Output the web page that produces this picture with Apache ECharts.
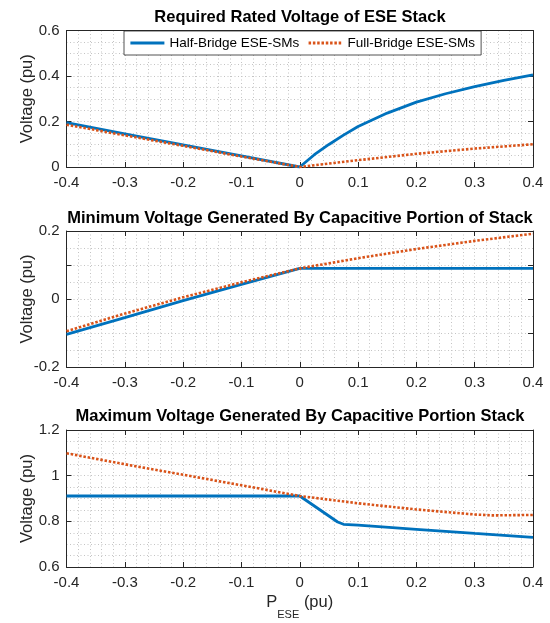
<!DOCTYPE html>
<html>
<head>
<meta charset="utf-8">
<script src="https://cdn.jsdelivr.net/npm/echarts@6/dist/echarts.min.js"></script>
<style>
html,body{margin:0;padding:0;background:#fff;}
#chart{width:550px;height:623px;}
</style>
</head>
<body>
<div id="chart"></div>
<script>
// ---------- data ----------
const seriesNames = ['Half-Bridge ESE-SMs', 'Full-Bridge ESE-SMs'];
const panelTitles = [
  'Required Rated Voltage of ESE Stack',
  'Minimum Voltage Generated By Capacitive Portion of Stack',
  'Maximum Voltage Generated By Capacitive Portion Stack'
];
const xTickLabels = ['-0.4', '-0.3', '-0.2', '-0.1', '0', '0.1', '0.2', '0.3', '0.4'];
const y1TickLabels = ['0', '0.2', '0.4', '0.6'];
const y2TickLabels = ['-0.2', '0', '0.2'];
const y3TickLabels = ['0.6', '0.8', '1', '1.2'];

// Panel 1: required rated voltage
const hb1X = [-0.4, -0.3, -0.2, -0.1, 0, 0.025, 0.05, 0.075, 0.1, 0.15, 0.2, 0.25, 0.3, 0.35, 0.4];
const hb1Y = [0.195, 0.146, 0.097, 0.049, 0, 0.054, 0.099, 0.140, 0.178, 0.237, 0.285, 0.322, 0.353, 0.381, 0.405];
const fb1X = [-0.4, -0.3, -0.2, -0.1, 0, 0.1, 0.2, 0.3, 0.4];
const fb1Y = [0.186, 0.139, 0.093, 0.046, 0, 0.030, 0.058, 0.081, 0.100];

// Panel 2: minimum voltage
const hb2X = [-0.4, -0.3, -0.2, -0.1, 0, 0.4];
const hb2Y = [-0.104, -0.055, -0.005, 0.043, 0.090, 0.090];
const fb2X = [-0.4, -0.3, -0.2, -0.1, 0, 0.1, 0.2, 0.3, 0.4];
const fb2Y = [-0.095, -0.043, 0.005, 0.049, 0.090, 0.120, 0.147, 0.171, 0.192];

// Panel 3: maximum voltage
const hb3X = [-0.4, 0, 0.065, 0.075, 0.1, 0.2, 0.3, 0.4];
const hb3Y = [0.911, 0.911, 0.797, 0.787, 0.783, 0.765, 0.747, 0.730];
const fb3X = [-0.4, -0.3, -0.2, -0.1, 0, 0.1, 0.2, 0.3, 0.33, 0.4];
const fb3Y = [1.098, 1.050, 1.004, 0.958, 0.911, 0.879, 0.852, 0.830, 0.826, 0.828];

// ---------- layout / style ----------
const FONT = 'Liberation Sans, Arial, Helvetica, sans-serif';
const AX = '#262626';
const BLUE = '#0072BD';
const ORANGE = '#D95319';
const gridsPos = [
  {top: 30.5, height: 136.5},
  {top: 231, height: 136},
  {top: 430, height: 137}
];
const titleCenters = [17, 218, 416.5];
const yRanges = [
  {min: 0, max: 0.6, interval: 0.2, minor: 4, labels: y1TickLabels},
  {min: -0.2, max: 0.2, interval: 0.1, minor: 2, labels: y2TickLabels},
  {min: 0.6, max: 1.2, interval: 0.2, minor: 4, labels: y3TickLabels}
];

function zip(xs, ys) { return xs.map((x, i) => [x, ys[i]]); }
function labelFmt(labels) {
  return function (v) {
    for (const l of labels) { if (Math.abs(Number(l) - v) < 1e-6) return l; }
    return '';
  };
}
const gridLine = {show: true, lineStyle: {color: '#c4c4c4', width: 1, type: [1, 2.5]}};

const grids = [], xAxes = [], yAxes = [], series = [], titles = [];
gridsPos.forEach((g, i) => {
  grids.push({left: 66.5, right: 17, top: g.top, height: g.height, containLabel: false});
  titles.push({
    text: panelTitles[i], left: 300, top: titleCenters[i] - 10, textAlign: 'center', padding: 0,
    textStyle: {fontFamily: FONT, fontSize: 16.5, fontWeight: 'bold', color: '#000', lineHeight: 20}
  });
  const isLast = i === 2;
  xAxes.push({
    type: 'value', gridIndex: i, min: -0.4, max: 0.4, interval: 0.1,
    axisLine: {show: true, onZero: false, lineStyle: {color: AX, width: 1}},
    axisTick: {show: true, inside: true, length: 5, lineStyle: {color: AX}},
    axisLabel: {show: true, margin: 8, color: AX, fontFamily: FONT, fontSize: 15, formatter: labelFmt(xTickLabels)},
    splitLine: gridLine,
    minorTick: {show: false, splitNumber: 5},
    minorSplitLine: gridLine,
    name: isLast ? '{p|P}{s|ESE}{p| (pu)}' : '',
    nameLocation: 'middle', nameGap: 27, nameMoveOverlap: false,
    nameTextStyle: {
      fontFamily: FONT, color: AX,
      rich: {
        p: {fontFamily: FONT, fontSize: 16.5, color: AX, verticalAlign: 'top', lineHeight: 26},
        s: {fontFamily: FONT, fontSize: 11, color: AX, verticalAlign: 'bottom', lineHeight: 12}
      }
    }
  });
  xAxes.push({
    type: 'value', gridIndex: i, position: 'top', min: -0.4, max: 0.4, interval: 0.1,
    axisLine: {show: true, onZero: false, lineStyle: {color: AX, width: 1}},
    axisTick: {show: true, inside: true, length: 5, lineStyle: {color: AX}},
    axisLabel: {show: false}, splitLine: {show: false}
  });
  const yr = yRanges[i];
  yAxes.push({
    type: 'value', gridIndex: i, min: yr.min, max: yr.max, interval: yr.interval,
    axisLine: {show: true, onZero: false, lineStyle: {color: AX, width: 1}},
    axisTick: {show: true, inside: true, length: 5, lineStyle: {color: AX}},
    axisLabel: {show: true, margin: 7, color: AX, fontFamily: FONT, fontSize: 15, formatter: labelFmt(yr.labels)},
    splitLine: gridLine,
    minorTick: {show: false, splitNumber: yr.minor},
    minorSplitLine: gridLine,
    name: 'Voltage (pu)', nameLocation: 'middle', nameGap: 31, nameRotate: 90, nameMoveOverlap: false,
    nameTextStyle: {fontFamily: FONT, fontSize: 16.5, color: AX}
  });
  yAxes.push({
    type: 'value', gridIndex: i, position: 'right', min: yr.min, max: yr.max, interval: yr.interval,
    axisLine: {show: true, onZero: false, lineStyle: {color: AX, width: 1}},
    axisTick: {show: true, inside: true, length: 5, lineStyle: {color: AX}},
    axisLabel: {show: false}, splitLine: {show: false}
  });
});

const panelData = [
  [zip(hb1X, hb1Y), zip(fb1X, fb1Y)],
  [zip(hb2X, hb2Y), zip(fb2X, fb2Y)],
  [zip(hb3X, hb3Y), zip(fb3X, fb3Y)]
];
panelData.forEach((pd, i) => {
  series.push({
    name: seriesNames[0], type: 'line', xAxisIndex: 2 * i, yAxisIndex: 2 * i,
    data: pd[0], showSymbol: false, symbol: 'none', z: 3,
    lineStyle: {color: BLUE, width: 2.8, type: 'solid'}, itemStyle: {color: BLUE}
  });
  series.push({
    name: seriesNames[1], type: 'line', xAxisIndex: 2 * i, yAxisIndex: 2 * i,
    data: pd[1], showSymbol: false, symbol: 'none', z: 4,
    lineStyle: {color: ORANGE, width: 2.6, type: [2.5, 1.8], cap: 'butt'}, itemStyle: {color: ORANGE}
  });
});

const option = {
  animation: false,
  backgroundColor: '#fff',
  title: titles,
  legend: {
    data: seriesNames, left: 124, top: 31, orient: 'horizontal',
    padding: [5, 6, 5, 5], itemGap: 8, itemWidth: 34, itemHeight: 10,
    backgroundColor: '#fff', borderColor: AX, borderWidth: 0.8,
    textStyle: {fontFamily: FONT, fontSize: 13.5, color: '#000'},
    itemStyle: {opacity: 0},
    lineStyle: {width: 2.8}
  },
  grid: grids,
  xAxis: xAxes,
  yAxis: yAxes,
  series: series
};
const chart = echarts.init(document.getElementById('chart'), null, {renderer: 'canvas'});
chart.setOption(option);
</script>
</body>
</html>
